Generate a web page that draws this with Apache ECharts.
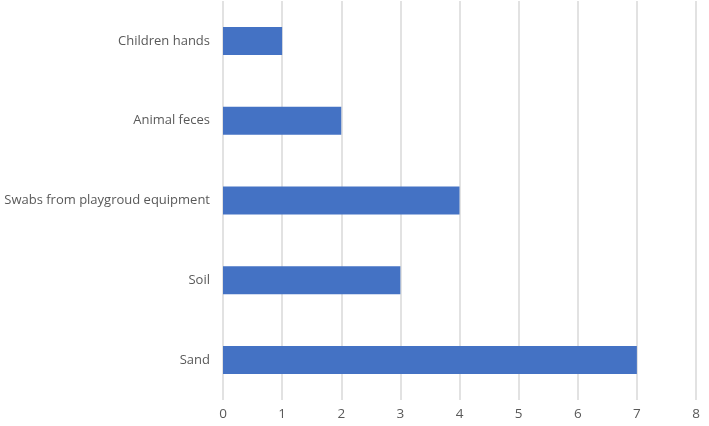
<!DOCTYPE html>
<html>
<head>
<meta charset="utf-8">
<script src="https://cdn.jsdelivr.net/npm/echarts@6/dist/echarts.min.js"></script>
<style>
  html, body { margin: 0; padding: 0; background: #fff; }
  #main { width: 709px; height: 426px; }
</style>
</head>
<body>
<div id="main"></div>
<script>
// categories listed bottom to top, as echarts draws a y category axis
const categories = ['Sand', 'Soil', 'Swabs from playgroud equipment', 'Animal feces', 'Children hands'];
const counts = [7, 3, 4, 2, 1];
const xMin = 0, xMax = 8, xStep = 1;

const myChart = echarts.init(document.getElementById('main'));
myChart.setOption({
    animation: false,
    textStyle: { fontFamily: 'Open Sans, Liberation Sans, sans-serif' },
    grid: { left: 223, right: 13, top: 1, bottom: 26, containLabel: false },
    xAxis: {
        type: 'value',
        min: xMin,
        max: xMax,
        interval: xStep,
        axisLine: { show: false },
        axisTick: { show: false },
        axisLabel: { color: '#595959', fontSize: 13.5, margin: 7 },
        splitLine: { lineStyle: { color: '#d9d9d9', width: 1.5 } }
    },
    yAxis: {
        type: 'category',
        data: categories,
        axisLine: { show: false },
        axisTick: { show: false },
        axisLabel: { color: '#595959', fontSize: 13, margin: 13 }
    },
    series: [{
        type: 'bar',
        data: counts,
        barWidth: 28,
        itemStyle: { color: '#4472C4' }
    }]
});
</script>
</body>
</html>
